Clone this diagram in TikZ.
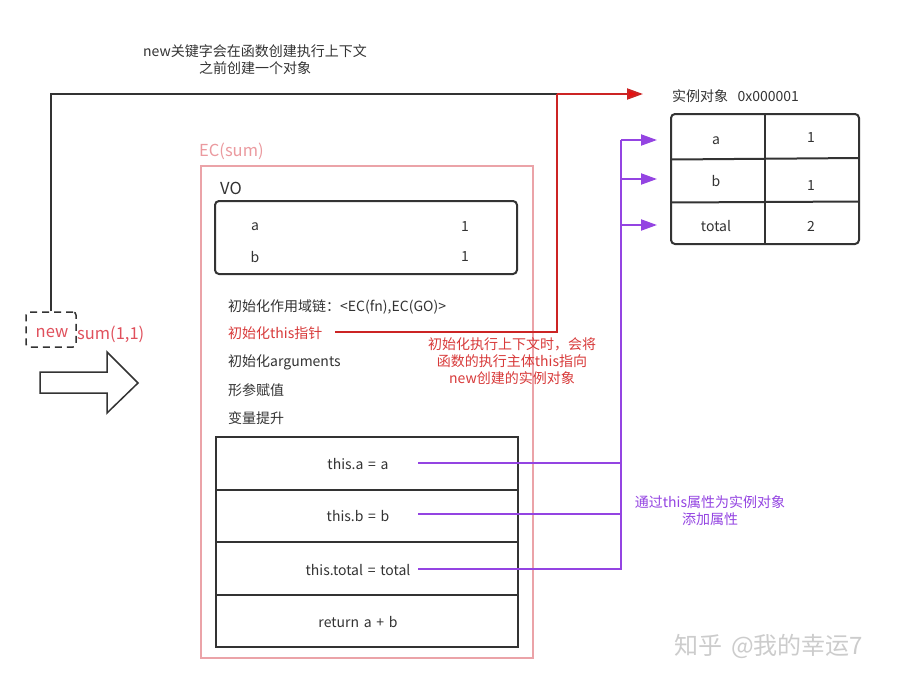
\documentclass[tikz,border=0pt]{standalone}
\usepackage{fontspec}
\setmainfont[WordSpace=1.5]{Noto Sans CJK SC}
\usetikzlibrary{arrows.meta}
\definecolor{txt}{HTML}{333333}
\definecolor{pinkc}{HTML}{EBA3A8}
\definecolor{pinkt}{HTML}{EB9A9F}
\definecolor{redl}{HTML}{CC2424}
\definecolor{redtip}{HTML}{E81010}
\definecolor{redt}{HTML}{D83A3A}
\definecolor{newred}{HTML}{E0505C}
\definecolor{purp}{HTML}{9444E2}
\tikzset{
  lbl/.style={font=\fontsize{14}{17}\selectfont, text=txt, inner sep=0pt},
  biglbl/.style={font=\fontsize{16.5}{19}\selectfont, inner sep=0pt},
  frame/.style={draw=txt, line width=2pt},
  rowbox/.style={draw=txt, line width=2pt, anchor=north west, minimum width=302pt, minimum height=52.5pt, inner sep=0pt},
  redline/.style={draw=redl, line width=2pt},
  purpline/.style={draw=purp, line width=2pt},
  tip/.style={-{Triangle[length=16pt,width=11pt]}},
}
\begin{document}
\begin{tikzpicture}[x=1pt,y=-1pt]
\useasboundingbox[fill=white] (0,0) rectangle (897,683);

% top note
\node[lbl, align=center] (note) at (255,59.5) {new关键字会在函数创建执行上下文\\之前创建一个对象};

% new sum(1,1)
\node[draw=txt, line width=1.5pt, dash pattern=on 7pt off 5pt, rounded corners=3pt,
      minimum width=50pt, minimum height=35pt, inner sep=0pt] (newbox) at (51,329.5) {};
\node[biglbl, text=newred] (newtxt) at (52,333.5) {new};
\node[biglbl, text=newred, anchor=west] (sumtxt) at (77,334) {sum(1,1)};

% block arrow
\draw[draw=txt, line width=1.5pt, fill=white] (40,372) -- (107,372) -- (107,352) -- (138,383) -- (107,413) -- (107,393) -- (40,393) -- cycle;

% EC(sum)
\node[biglbl, text=pinkt, anchor=west] (eclbl) at (199,151) {EC(sum)};
\node[draw=pinkc, line width=2pt, anchor=north west, minimum width=332pt, minimum height=492pt, inner sep=0pt] (ec) at (200,165) {};

% VO
\node[biglbl, text=txt, anchor=west] (volbl) at (220,188) {VO};
\draw[frame, rounded corners=4pt] (215,201) rectangle (517,274);
\node[lbl] (voa) at (255,227) {a};
\node[lbl] (voa1) at (465,227) {1};
\node[lbl] (vob) at (255,257) {b};
\node[lbl] (vob1) at (465,257) {1};

% steps
\node[lbl, anchor=west] (s1) at (228,306.5) {初始化作用域链：<EC(fn),EC(GO)>};
\node[lbl, anchor=west, text=redt] (s2) at (228,333) {初始化this指针};
\node[lbl, anchor=west] (s3) at (228,362) {初始化arguments};
\node[lbl, anchor=west] (s4) at (228,390) {形参赋值};
\node[lbl, anchor=west] (s5) at (228,418) {变量提升};

% code table
\node[rowbox] (r1) at (215,436) {};
\node[rowbox] (r2) at (215,488.5) {};
\node[rowbox] (r3) at (215,541) {};
\node[rowbox] (r4) at (215,593.5) {};
\node[lbl] (c1) at (358,464) {this.a = a};
\node[lbl] (c2) at (358,516) {this.b = b};
\node[lbl] (c3) at (358,570) {this.total = total};
\node[lbl] (c4) at (358,622) {return a + b};

% instance object
\node[lbl, anchor=west] (instlbl) at (672,96) {实例对象\ \ 0x000001};
\draw[frame, rounded corners=4pt] (671,114) rectangle (859,244);
\draw[frame] (765,114) -- (765,244);
\draw[frame] (671,159.5) -- (859,158);
\draw[frame] (671,202.5) -- (859,201.5);
\node[lbl] (ia) at (716,141) {a};
\node[lbl] (iv1) at (811,138) {1};
\node[lbl] (ib) at (716,181) {b};
\node[lbl] (iv2) at (811,186) {1};
\node[lbl] (itot) at (716,226) {total};
\node[lbl] (iv3) at (811,226) {2};
\coordinate (ta) at (671,140);
\coordinate (tb) at (671,179);
\coordinate (tt) at (671,225);

% black + red connector (new -> instance)
\coordinate (rcorner) at (557,94);
\coordinate (rtip) at (643,94);
\coordinate (thisend) at (335,332);
\draw[draw=txt, line width=2pt] (newbox.north) |- (rcorner);
\draw[redline] (thisend) -| (rcorner);
\draw[redline, -{Triangle[length=16pt,width=11pt,fill=redtip]}] (rcorner) -- (rtip);

% red annotation
\node[lbl, text=redt, align=center] (rednote) at (512,361) {初始化执行上下文时，会将\\函数的执行主体this指向\\new创建的实例对象};

% purple connectors
\coordinate (p1) at (418,463);
\coordinate (p2) at (418,514);
\coordinate (p3) at (418,569);
\coordinate (trunk) at (621,140);
\draw[purpline] (p1) -- (p1 -| trunk);
\draw[purpline] (p2) -- (p2 -| trunk);
\draw[purpline] (p3) -| (trunk);
\draw[purpline, tip, shorten >=14pt] (trunk) -- (ta);
\draw[purpline, tip, shorten >=14pt] (tb -| trunk) -- (tb);
\draw[purpline, tip, shorten >=14pt] (tt -| trunk) -- (tt);

% purple annotation
\node[lbl, text=purp, align=center] (purpnote) at (710,511) {通过this属性为实例对象\\添加属性};

% watermark
\node[font=\fontsize{24}{26}\selectfont, text=gray!40, inner sep=0pt] (wm) at (769,646) {知乎 @我的幸运7};
\end{tikzpicture}
\end{document}
